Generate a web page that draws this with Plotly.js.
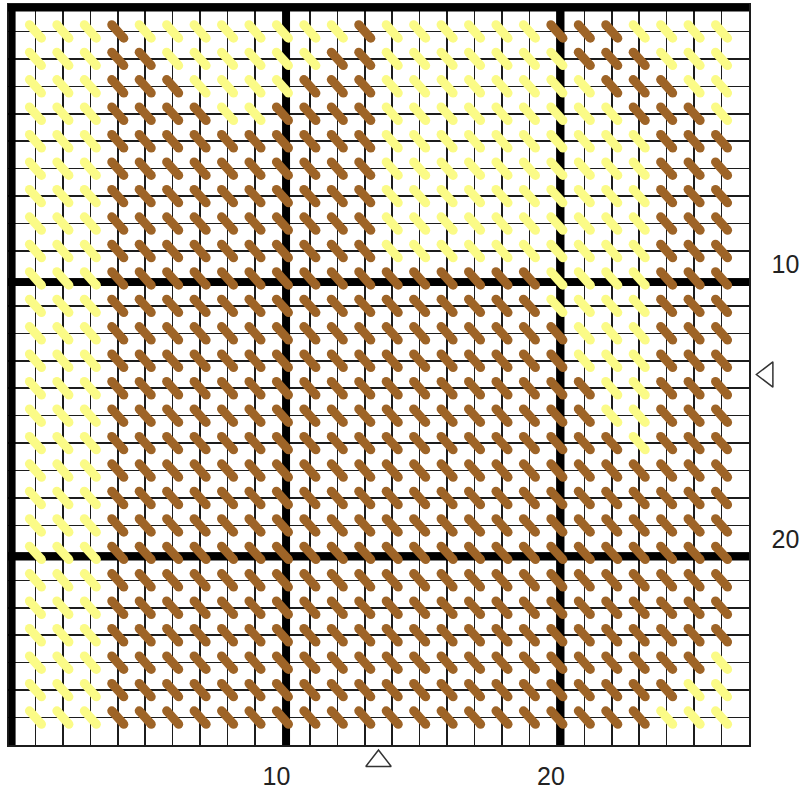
<!DOCTYPE html>
<html>
<head>
<meta charset="utf-8">
<script src="https://cdn.plot.ly/plotly-3.0.1.min.js"></script>
<style>html,body{margin:0;padding:0;background:#fff;}#chart{width:802px;height:791px;}</style>
</head>
<body>
<div id="chart"></div>
<script>
// Grid size (cells) and stitch pattern: one string per row, one char per stitch (Y = yellow, B = brown)
const gridSize = 27;
const majorLines = [0, 10, 20];
const tickValues = [10, 20];
const tickLabels = ["10", "20"];
const centerMark = gridSize / 2;

const patternRows = [
  "YYYBYYYYYYYYBYYYYYYBBBYYYY",
  "YYYBBYYYYYYBBYYYYYYYBBBYYY",
  "YYYBBBYYYYBBBYYYYYYYYBBBYY",
  "YYYBBBBYYBBBBYYYYYYYYYBBBY",
  "YYYBBBBBBBBBBYYYYYYYYYYBBB",
  "YYYBBBBBBBBBBYYYYYYYYYYBBB",
  "YYYBBBBBBBBBBYYYYYYYYYYBBB",
  "YYYBBBBBBBBBBYYYYYYYYYYBBB",
  "YYYBBBBBBBBBBYYYYYYYYYYBBB",
  "YYYBBBBBBBBBBBBBBBBYYYYBBB",
  "YYYBBBBBBBBBBBBBBBBYYYYBBB",
  "YYYBBBBBBBBBBBBBBBBBYYYBBB",
  "YYYBBBBBBBBBBBBBBBBBYYYBBB",
  "YYYBBBBBBBBBBBBBBBBBBYYBBB",
  "YYYBBBBBBBBBBBBBBBBBBYYBBB",
  "YYYBBBBBBBBBBBBBBBBBBBYBBB",
  "YYYBBBBBBBBBBBBBBBBBBBBBBB",
  "YYYBBBBBBBBBBBBBBBBBBBBBBB",
  "YYYBBBBBBBBBBBBBBBBBBBBBBB",
  "YYYBBBBBBBBBBBBBBBBBBBBBBB",
  "YYYBBBBBBBBBBBBBBBBBBBBBBB",
  "YYYBBBBBBBBBBBBBBBBBBBBBBB",
  "YYYBBBBBBBBBBBBBBBBBBBBBBB",
  "YYYBBBBBBBBBBBBBBBBBBBBBBY",
  "YYYBBBBBBBBBBBBBBBBBBBBBYY",
  "YYYBBBBBBBBBBBBBBBBBBBBYYY"
];
const threadColors = { Y: "#FBFB87", B: "#9E6427" };
const threadNames = { Y: "Yellow", B: "Brown" };

// layout / style constants (pixels)
const W = 802, H = 791;
const PLOT_L = 8, PLOT_R = 749, PLOT_T = 4, PLOT_B = 745;
const STITCH_DX = 0.22, STITCH_DY = 0.245, STITCH_W = 9;
const THICK_OFF = 0.14, THICK_W = 7.5;
const GRID_COLOR = "#1c1c1c";
const MARK_OFF_X = 0.58, MARK_OFF_Y = 0.67; // distance of centre markers outside the grid (cells)

const traces = [];

// thick (every 10th) lines incl. top/left borders
const tx = [], ty = [];
majorLines.forEach(m => {
  tx.push(m + THICK_OFF, m + THICK_OFF, null); ty.push(0, gridSize, null);
  tx.push(0, gridSize, null); ty.push(m + THICK_OFF, m + THICK_OFF, null);
});
traces.push({type: "scatter", mode: "lines", x: tx, y: ty, xaxis: "x", yaxis: "y",
  line: {color: "#000", width: THICK_W}, hoverinfo: "skip", showlegend: false});

// stitches
["Y", "B"].forEach(code => {
  const xs = [], ys = [];
  patternRows.forEach((row, ri) => {
    for (let ci = 0; ci < row.length; ci++) {
      if (row[ci] !== code) continue;
      const cx = ci + 1, cy = ri + 1;
      xs.push(cx - STITCH_DX, cx + STITCH_DX, null);
      ys.push(cy - STITCH_DY, cy + STITCH_DY, null);
    }
  });
  traces.push({type: "scatter", mode: "lines+markers", name: threadNames[code], x: xs, y: ys,
    xaxis: "x", yaxis: "y",
    line: {color: threadColors[code], width: STITCH_W},
    marker: {color: threadColors[code], size: STITCH_W, line: {width: 0}},
    hoverinfo: "skip", showlegend: false});
});

// centre markers on a full-canvas overlay subplot with the same cell scale
traces.push({type: "scatter", mode: "markers", x: [centerMark], y: [gridSize + MARK_OFF_X],
  xaxis: "x2", yaxis: "y2",
  marker: {symbol: "triangle-up-open", size: 22, color: "#333", line: {width: 1.5, color: "#333"}},
  hoverinfo: "skip", showlegend: false});
traces.push({type: "scatter", mode: "markers", x: [gridSize + MARK_OFF_Y], y: [centerMark],
  xaxis: "x2", yaxis: "y2",
  marker: {symbol: "triangle-left-open", size: 22, color: "#333", line: {width: 1.5, color: "#333"}},
  hoverinfo: "skip", showlegend: false});

const axisCommon = {
  showgrid: false, zeroline: false,
  showline: true, mirror: true, linecolor: GRID_COLOR, linewidth: 1.5,
  tickmode: "array", tickvals: tickValues, ticktext: tickLabels, ticks: "",
  tickfont: {family: "Liberation Sans, Arial, sans-serif", size: 25, color: "#222"},
  minor: {dtick: 1, tick0: 0, showgrid: true, gridcolor: GRID_COLOR, gridwidth: 1.5, ticks: ""},
  fixedrange: true
};

const cellX = (PLOT_R - PLOT_L) / gridSize;
const cellY = (PLOT_B - PLOT_T) / gridSize;

const layout = {
  width: W, height: H,
  margin: {l: 0, r: 0, t: 0, b: 0, pad: 0},
  paper_bgcolor: "#fff", plot_bgcolor: "rgba(0,0,0,0)",
  showlegend: false,
  xaxis: Object.assign({}, axisCommon, {range: [0, gridSize], domain: [PLOT_L / W, PLOT_R / W],
    anchor: "y", ticklabelshift: -6, ticklabelstandoff: 8}),
  yaxis: Object.assign({}, axisCommon, {range: [gridSize, 0], domain: [1 - PLOT_B / H, 1 - PLOT_T / H],
    anchor: "x", side: "right", ticklabelshift: 14, ticklabelstandoff: 16}),
  xaxis2: {visible: false, domain: [0, 1], anchor: "y2", fixedrange: true,
    range: [-PLOT_L / cellX, (W - PLOT_L) / cellX]},
  yaxis2: {visible: false, domain: [0, 1], anchor: "x2", fixedrange: true,
    range: [(H - PLOT_T) / cellY, -PLOT_T / cellY]}
};

Plotly.newPlot("chart", traces, layout, {displayModeBar: false, staticPlot: true});
</script>
</body>
</html>
